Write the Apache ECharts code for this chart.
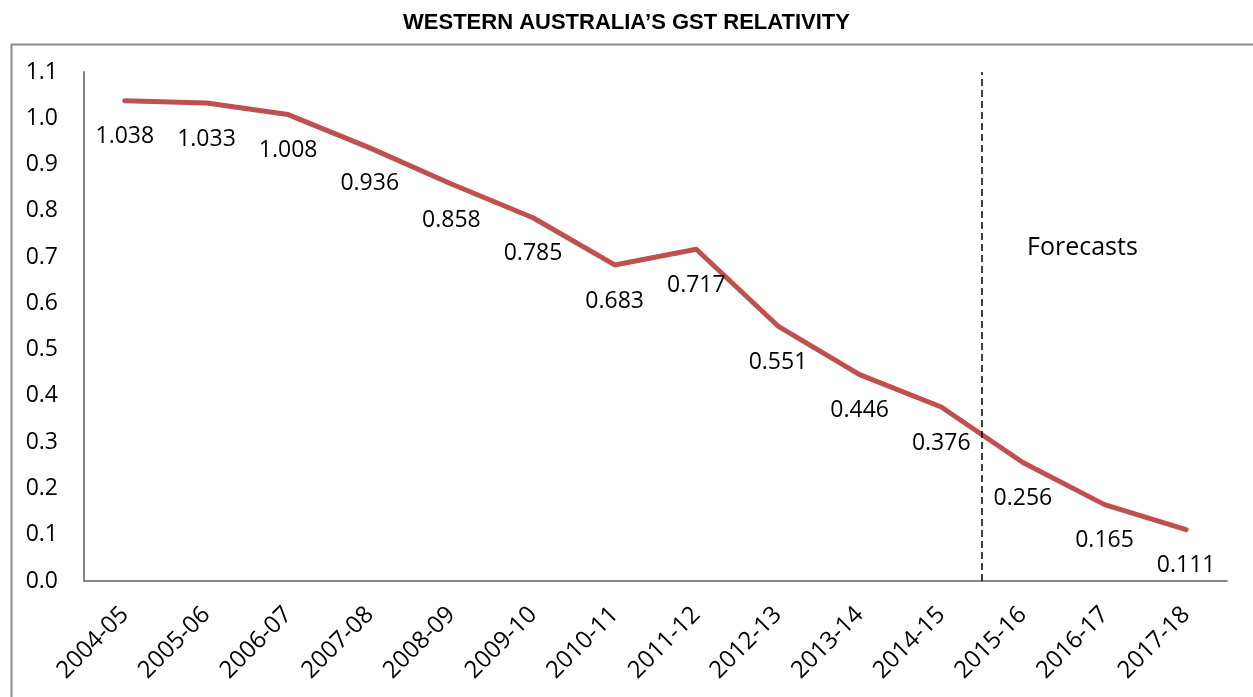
<!DOCTYPE html>
<html>
<head>
<meta charset="utf-8">
<script src="https://cdn.jsdelivr.net/npm/echarts@6/dist/echarts.min.js"></script>
<style>
  html, body { margin: 0; padding: 0; background: #fff; }
  #main { width: 1253px; height: 697px; }
</style>
</head>
<body>
<div id="main"></div>
<script>
var years = ['2004-05', '2005-06', '2006-07', '2007-08', '2008-09', '2009-10', '2010-11',
  '2011-12', '2012-13', '2013-14', '2014-15', '2015-16', '2016-17', '2017-18'];
var relativity = [1.038, 1.033, 1.008, 0.936, 0.858, 0.785, 0.683,
  0.717, 0.551, 0.446, 0.376, 0.256, 0.165, 0.111];
var forecastStart = 11; // boundary before 2015-16, first forecast year

var chart = echarts.init(document.getElementById('main'));
var font = 'Open Sans';

var option = {
  backgroundColor: '#fff',
  animation: false,
  title: {
    text: 'WESTERN AUSTRALIA\u2019S GST RELATIVITY',
    left: 'center',
    top: 7,
    textStyle: {
      fontFamily: 'Liberation Sans',
      fontWeight: 'bold',
      fontSize: 22,
      color: '#000'
    }
  },
  graphic: [
    { // outer frame
      type: 'rect',
      left: 9,
      top: 42,
      shape: { width: 1270, height: 680 },
      style: { fill: 'none', stroke: '#8a8a8a', lineWidth: 2 },
      silent: true
    },
    {
      type: 'text',
      left: 1027,
      top: 235,
      style: { text: 'Forecasts', font: '25px "Open Sans"', fill: '#000' }
    }
  ],
  grid: {
    left: 84,
    right: 26,
    top: 72,
    bottom: 116
  },
  xAxis: [
    {
      type: 'category',
      data: years,
      boundaryGap: true,
      axisLine: { lineStyle: { color: '#868686', width: 2 } },
      axisTick: { show: false },
      axisLabel: {
        rotate: 45,
        margin: 30,
        fontFamily: font,
        fontSize: 24,
        color: '#000',
        interval: 0
      },
      splitLine: { show: false }
    },
    { // helper axis for the forecast divider, same span as the categories
      type: 'value',
      min: 0,
      max: years.length,
      show: false
    }
  ],
  yAxis: {
    type: 'value',
    min: 0,
    max: 1.1,
    interval: 0.1,
    axisLine: { show: true, lineStyle: { color: '#868686', width: 2 } },
    axisTick: { show: false },
    splitLine: { show: false },
    axisLabel: {
      margin: 26,
      fontFamily: font,
      fontSize: 23,
      color: '#000',
      formatter: function (v) { return v.toFixed(1); }
    }
  },
  series: [
    {
      name: 'GST relativity',
      type: 'line',
      data: relativity,
      symbol: 'circle',
      symbolSize: 1,
      itemStyle: { color: '#C0504D' },
      lineStyle: { color: '#C0504D', width: 5, cap: 'round', join: 'round' },
      label: {
        show: true,
        position: 'bottom',
        distance: 24,
        fontFamily: font,
        fontSize: 23,
        color: '#000',
        formatter: function (p) { return p.value.toFixed(3); }
      }
    },
    {
      name: 'divider',
      type: 'line',
      xAxisIndex: 1,
      data: [],
      silent: true,
      markLine: {
        symbol: 'none',
        silent: true,
        label: { show: false },
        lineStyle: { color: '#000', type: [7, 4], width: 1.5 },
        data: [{ xAxis: forecastStart }]
      }
    }
  ]
};

chart.setOption(option);
</script>
</body>
</html>
